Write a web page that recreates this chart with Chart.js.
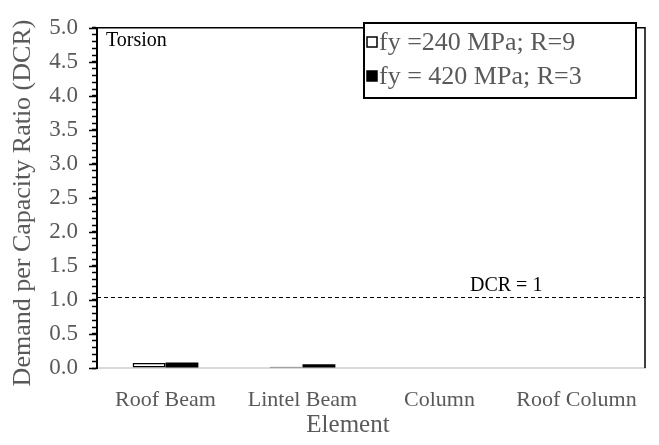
<!DOCTYPE html>
<html>
<head>
<meta charset="utf-8">
<script src="https://cdn.jsdelivr.net/npm/chart.js@4.4.1/dist/chart.umd.min.js"></script>
<style>
  html, body { margin: 0; padding: 0; background: #fff; }
</style>
</head>
<body>
<canvas id="chart" width="659" height="445"></canvas>
<script>
const categories = ['Roof Beam', 'Lintel Beam', 'Column', 'Roof Column'];
const seriesNames = ['fy =240 MPa; R=9', 'fy = 420 MPa; R=3'];
const fy240 = [0.075, 0.02, 0, 0];
const fy420 = [0.08, 0.055, 0, 0];
const yTickLabels = ['0.0', '0.5', '1.0', '1.5', '2.0', '2.5', '3.0', '3.5', '4.0', '4.5', '5.0'];
const dcrLimit = 1.05;

const FONT = '"Liberation Serif", "Times New Roman", serif';
const GRAY = '#595959';

// frame, DCR line, notes, axis titles and the boxed legend
const overlay = {
  id: 'overlay',
  afterDraw(chart) {
    const { ctx, chartArea: a, scales: { y } } = chart;
    ctx.save();

    // longer major ticks
    ctx.strokeStyle = '#000';
    ctx.lineWidth = 1.5;
    y.ticks.forEach((t) => {
      if (Math.round(t.value * 10) % 5 !== 0) return;
      const py = Math.round(y.getPixelForValue(t.value)) + 0.5;
      ctx.beginPath();
      ctx.moveTo(a.left - 8, py);
      ctx.lineTo(a.left, py);
      ctx.stroke();
    });

    // black frame on top and right
    ctx.beginPath();
    ctx.moveTo(a.left, a.top);
    ctx.lineTo(a.right, a.top);
    ctx.lineTo(a.right, a.bottom);
    ctx.stroke();

    // DCR = 1 dashed line
    const yy = Math.round(y.getPixelForValue(dcrLimit)) + 0.5;
    ctx.lineWidth = 1;
    ctx.setLineDash([4, 3]);
    ctx.beginPath();
    ctx.moveTo(a.left, yy);
    ctx.lineTo(a.right, yy);
    ctx.stroke();
    ctx.setLineDash([]);

    ctx.fillStyle = '#000';
    ctx.font = '20px ' + FONT;
    ctx.textBaseline = 'alphabetic';
    ctx.textAlign = 'left';
    ctx.fillText('DCR = 1', 470, yy - 7);
    ctx.fillText('Torsion', 106, 46);

    // axis titles
    ctx.fillStyle = GRAY;
    ctx.font = '25px ' + FONT;
    ctx.textAlign = 'center';
    ctx.textBaseline = 'middle';
    ctx.fillText('Element', 348, 425);
    ctx.save();
    ctx.translate(23, 203);
    ctx.rotate(-Math.PI / 2);
    ctx.font = '26px ' + FONT;
    ctx.fillText('Demand per Capacity Ratio (DCR)', 0, 0);
    ctx.restore();

    // legend box
    ctx.fillStyle = '#fff';
    ctx.fillRect(364, 23, 272, 75);
    ctx.strokeStyle = '#000';
    ctx.lineWidth = 2;
    ctx.strokeRect(364, 23, 272, 75);

    ctx.font = '26px ' + FONT;
    ctx.textAlign = 'left';
    ctx.textBaseline = 'middle';
    const rows = [42, 76];
    chart.data.datasets.forEach((ds, i) => {
      const cy = rows[i];
      ctx.fillStyle = ds.backgroundColor;
      ctx.fillRect(367, cy - 5, 10, 10);
      ctx.strokeStyle = '#000';
      ctx.lineWidth = 1.5;
      ctx.strokeRect(367, cy - 5, 10, 10);
      ctx.fillStyle = GRAY;
      ctx.fillText(ds.label, 379, cy + 1);
    });

    ctx.restore();
  }
};

new Chart(document.getElementById('chart'), {
  type: 'bar',
  data: {
    labels: categories,
    datasets: [
      {
        label: seriesNames[0],
        data: fy240,
        backgroundColor: '#ffffff',
        borderColor: '#000000',
        borderWidth: 1.5,
        borderSkipped: false,
      },
      {
        label: seriesNames[1],
        data: fy420,
        backgroundColor: '#000000',
        borderColor: '#000000',
        borderWidth: 0,
      },
    ],
  },
  options: {
    responsive: false,
    animation: false,
    layout: { padding: { left: 0, top: 18, right: 14, bottom: 0 } },
    datasets: { bar: { categoryPercentage: 0.48, barPercentage: 1.0 } },
    plugins: {
      legend: { display: false },
      tooltip: { enabled: false },
    },
    scales: {
      x: {
        afterFit: (scale) => { scale.height = 77; },
        grid: { display: false },
        border: { display: true, color: '#d9d9d9', width: 2 },
        ticks: {
          color: GRAY,
          padding: 11,
          font: { family: FONT, size: 22 },
        },
      },
      y: {
        min: 0,
        max: 5,
        afterFit: (scale) => { scale.width = 97; },
        grid: {
          drawOnChartArea: false,
          drawTicks: true,
          tickLength: 5,
          tickColor: '#000',
          tickWidth: 1.5,
        },
        border: { display: true, color: '#000', width: 2 },
        ticks: {
          stepSize: 0.1,
          autoSkip: false,
          color: GRAY,
          padding: 14,
          font: { family: FONT, size: 23 },
          callback: (v) => {
            const i = Math.round(v * 10);
            return i % 5 === 0 ? yTickLabels[i / 5] : '';
          },
        },
      },
    },
  },
  plugins: [overlay],
});
</script>
</body>
</html>
